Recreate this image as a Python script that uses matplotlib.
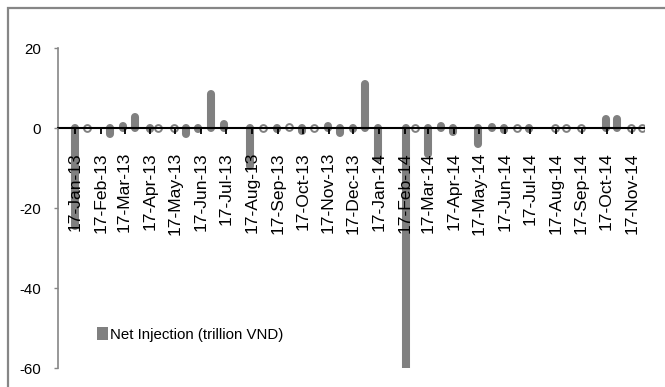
import numpy as np
import matplotlib
matplotlib.use("Agg")
import matplotlib.pyplot as plt
import matplotlib.dates as mdates
from matplotlib.patches import Patch, Rectangle

plt.rcParams["font.family"] = ["Liberation Sans", "DejaVu Sans"]
plt.rcParams["axes.unicode_minus"] = False

# Net injection by operation date (trillion VND)
dates = np.array([
    "2013-01-17", "2013-01-31", "2013-02-28", "2013-03-15", "2013-03-29",
    "2013-04-16", "2013-04-26", "2013-05-15", "2013-05-30", "2013-06-13",
    "2013-06-29", "2013-07-15", "2013-08-15", "2013-08-30", "2013-09-16",
    "2013-09-30", "2013-10-16", "2013-10-31", "2013-11-16", "2013-12-01",
    "2013-12-16", "2013-12-31", "2014-01-16", "2014-02-18", "2014-03-01",
    "2014-03-17", "2014-04-01", "2014-04-15", "2014-05-15", "2014-06-01",
    "2014-06-16", "2014-07-01", "2014-07-16", "2014-08-16", "2014-08-29",
    "2014-09-16", "2014-10-16", "2014-10-30", "2014-11-15", "2014-11-28",
], dtype="datetime64[D]")
net_injection = np.array([
    -24.4, 0.1, -1.45, 0.55, 2.8,
    -0.3, 0.1, 0.1, -1.6, -0.3,
    8.6, 1.1, -9.4, 0.1, -0.3,
    0.15, -0.8, 0.1, 0.45, -1.2,
    -0.3, 10.9, -7.45, -62.0, 0.1,
    -6.6, 0.55, -1.0, -3.95, 0.35,
    -0.6, -0.1, -0.3, 0.1, -0.1,
    0.1, 2.2, 2.2, 0.1, -0.1,
])
tick_dates = np.array([
    "2013-01-17", "2013-02-17", "2013-03-17", "2013-04-17", "2013-05-17",
    "2013-06-17", "2013-07-17", "2013-08-17", "2013-09-17", "2013-10-17",
    "2013-11-17", "2013-12-17", "2014-01-17", "2014-02-17", "2014-03-17",
    "2014-04-17", "2014-05-17", "2014-06-17", "2014-07-17", "2014-08-17",
    "2014-09-17", "2014-10-17", "2014-11-17",
], dtype="datetime64[D]")
y_ticks = [-60, -40, -20, 0, 20]
series_label = "Net Injection (trillion VND)"

BAR = "#808080"
AXIS_GREY = "#868686"

W, H = 665, 387
fig = plt.figure(figsize=(W / 100, H / 100), dpi=100)
ax = fig.add_axes([58 / W, 19 / H, (644 - 58) / W, 320 / H])
ax.set_axisbelow(False)

# chart frame
fig.patches.append(Rectangle((8 / W, -0.1), 1.2, 1.1 - 8.5 / H,
                             transform=fig.transFigure, fill=False,
                             edgecolor=AXIS_GREY, linewidth=1.6))

# rounded bars; near-zero entries drawn as hollow rings
small = np.abs(net_injection) <= 0.15
ax.vlines(dates[~small], 0, net_injection[~small], colors=BAR,
          linewidth=5.8, capstyle="round", zorder=2)
ax.plot(dates[small], net_injection[small], linestyle="none", marker="o",
        markersize=4.9, markerfacecolor="white", markeredgecolor=BAR,
        markeredgewidth=1.4, zorder=2)

ax.set_ylim(-60, 20)
ax.set_xlim(np.datetime64("2012-12-27"), np.datetime64("2014-12-01"))
ax.set_yticks(y_ticks)
ax.set_xticks(tick_dates)
ax.xaxis.set_major_formatter(mdates.DateFormatter("%d-%b-%y"))

for s in ("top", "right"):
    ax.spines[s].set_visible(False)
ax.spines["left"].set_color(AXIS_GREY)
ax.spines["left"].set_linewidth(1.2)
ax.spines["bottom"].set_position(("data", 0))
ax.spines["bottom"].set_color("black")
ax.spines["bottom"].set_linewidth(1.5)

ax.tick_params(axis="y", direction="out", length=3, width=1, color=AXIS_GREY,
               labelsize=10.8, pad=9)
ax.tick_params(axis="x", direction="out", length=4.3, width=1.3, color="black",
               labelsize=12.6, pad=13, labelrotation=90)

ax.legend(handles=[Patch(facecolor=BAR, edgecolor="none", label=series_label)],
          loc="upper left", bbox_to_anchor=(97 / W, 1 - 327 / H),
          bbox_transform=fig.transFigure, frameon=False, borderpad=0,
          borderaxespad=0, handlelength=0.75, handleheight=0.95,
          handletextpad=0.15, fontsize=10.8)

fig.savefig("out.png", dpi=100)
